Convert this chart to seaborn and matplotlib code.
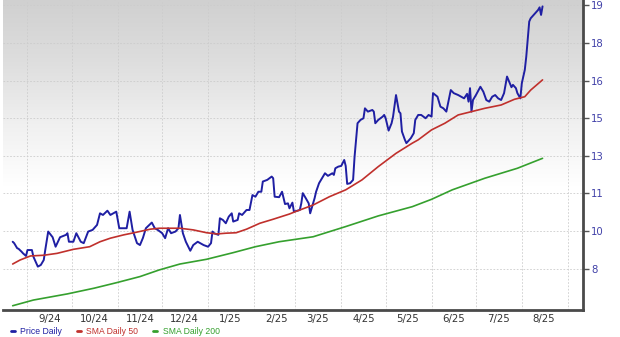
import numpy as np
import pandas as pd
import matplotlib
matplotlib.use("Agg")
import matplotlib.pyplot as plt
import matplotlib.dates as mdates
import seaborn as sns
from matplotlib.lines import Line2D
from matplotlib.colors import LinearSegmentedColormap

# ---------------- data ----------------
price_dates = [
    "2024-08-22", "2024-08-23", "2024-08-25", "2024-08-26", "2024-08-28", "2024-08-29", "2024-08-31",
    "2024-09-01", "2024-09-04", "2024-09-05", "2024-09-06", "2024-09-08", "2024-09-10", "2024-09-12",
    "2024-09-13", "2024-09-15", "2024-09-18", "2024-09-20", "2024-09-23", "2024-09-27", "2024-09-28",
    "2024-09-29", "2024-10-02", "2024-10-04", "2024-10-07", "2024-10-09", "2024-10-12", "2024-10-15",
    "2024-10-18", "2024-10-20", "2024-10-22", "2024-10-25", "2024-10-27", "2024-10-31", "2024-11-02",
    "2024-11-07", "2024-11-09", "2024-11-11", "2024-11-14", "2024-11-16", "2024-11-18", "2024-11-20",
    "2024-11-24", "2024-11-26", "2024-11-28", "2024-12-01", "2024-12-03", "2024-12-05", "2024-12-07",
    "2024-12-10", "2024-12-12", "2024-12-13", "2024-12-15", "2024-12-17", "2024-12-20", "2024-12-22",
    "2024-12-25", "2024-12-29", "2025-01-01", "2025-01-03", "2025-01-04", "2025-01-05", "2025-01-08",
    "2025-01-09", "2025-01-11", "2025-01-13", "2025-01-15", "2025-01-17", "2025-01-18", "2025-01-21",
    "2025-01-22", "2025-01-24", "2025-01-27", "2025-01-29", "2025-01-31", "2025-02-02", "2025-02-04",
    "2025-02-06", "2025-02-07", "2025-02-10", "2025-02-13", "2025-02-14", "2025-02-15", "2025-02-18",
    "2025-02-20", "2025-02-22", "2025-02-24", "2025-02-25", "2025-02-27", "2025-02-28", "2025-03-04",
    "2025-03-05", "2025-03-06", "2025-03-08", "2025-03-10", "2025-03-11", "2025-03-14", "2025-03-15",
    "2025-03-17", "2025-03-19", "2025-03-21", "2025-03-23", "2025-03-26", "2025-03-27", "2025-03-28",
    "2025-03-30", "2025-04-01", "2025-04-03", "2025-04-04", "2025-04-05", "2025-04-07", "2025-04-09",
    "2025-04-10", "2025-04-12", "2025-04-14", "2025-04-16", "2025-04-17", "2025-04-19", "2025-04-22",
    "2025-04-23", "2025-04-24", "2025-04-26", "2025-04-29", "2025-04-30", "2025-05-01", "2025-05-03",
    "2025-05-05", "2025-05-06", "2025-05-08", "2025-05-09", "2025-05-10", "2025-05-11", "2025-05-12",
    "2025-05-14", "2025-05-15", "2025-05-18", "2025-05-20", "2025-05-21", "2025-05-23", "2025-05-25",
    "2025-05-28", "2025-05-30", "2025-06-01", "2025-06-02", "2025-06-05", "2025-06-07", "2025-06-09",
    "2025-06-11", "2025-06-14", "2025-06-16", "2025-06-19", "2025-06-23", "2025-06-25", "2025-06-26",
    "2025-06-27", "2025-06-28", "2025-06-29", "2025-07-01", "2025-07-04", "2025-07-06", "2025-07-08",
    "2025-07-10", "2025-07-12", "2025-07-14", "2025-07-16", "2025-07-18", "2025-07-20", "2025-07-22",
    "2025-07-25", "2025-07-26", "2025-07-28", "2025-07-29", "2025-07-31", "2025-08-01", "2025-08-03",
    "2025-08-04", "2025-08-06", "2025-08-07", "2025-08-10", "2025-08-12", "2025-08-13", "2025-08-14",
    "2025-08-15",
]
price_values = [
    9.43, 9.37, 9.16, 9.13, 9.01, 8.94, 8.83,
    9.08, 9.08, 8.80, 8.66, 8.38, 8.45, 8.66,
    9.08, 9.86, 9.62, 9.22, 9.62, 9.72, 9.79,
    9.43, 9.43, 9.79, 9.43, 9.37, 9.86, 9.93,
    10.14, 10.63, 10.56, 10.74, 10.56, 10.70, 10.00,
    10.00, 10.70, 9.93, 9.37, 9.29, 9.59, 10.00,
    10.24, 10.00, 9.93, 9.79, 9.58, 10.00, 9.79,
    9.86, 10.00, 10.56, 9.79, 9.43, 9.05, 9.29,
    9.43, 9.29, 9.22, 9.37, 9.86, 9.79, 9.72,
    10.42, 10.35, 10.21, 10.49, 10.63, 10.28, 10.35,
    10.63, 10.56, 10.77, 10.77, 11.40, 11.33, 11.54,
    11.54, 11.97, 12.04, 12.18, 12.11, 11.33, 11.31,
    11.54, 11.02, 11.05, 10.84, 11.08, 10.70, 10.77,
    11.05, 11.48, 11.27, 11.05, 10.63, 11.27, 11.54,
    11.90, 12.11, 12.32, 12.21, 12.32, 12.25, 12.53,
    12.60, 12.63, 12.88, 12.63, 11.87, 11.90, 12.04,
    13.02, 14.43, 14.57, 14.64, 15.06, 14.92, 14.99,
    14.92, 14.43, 14.57, 14.71, 14.78, 14.64, 14.12,
    14.43, 14.71, 15.62, 15.27, 14.92, 14.85, 14.08,
    13.73, 13.59, 13.80, 14.01, 14.57, 14.78, 14.78,
    14.64, 14.78, 14.71, 15.70, 15.55, 15.13, 15.06,
    14.92, 15.83, 15.70, 15.62, 15.48, 15.67, 15.34,
    15.91, 14.92, 15.41, 15.62, 15.97, 15.76, 15.41,
    15.34, 15.55, 15.62, 15.48, 15.41, 15.70, 16.40,
    15.95, 16.05, 15.91, 15.70, 15.48, 16.12, 16.68,
    17.24, 18.72, 18.86, 19.07, 19.21, 19.32, 19.00,
    19.36,
]

sma50_dates = [
    "2024-08-22", "2024-08-27", "2024-09-03", "2024-09-12", "2024-09-21", "2024-10-02", "2024-10-13",
    "2024-10-20", "2024-10-27", "2024-11-05", "2024-11-12", "2024-11-23", "2024-11-29", "2024-12-13",
    "2024-12-22", "2024-12-31", "2025-01-07", "2025-01-13", "2025-01-20", "2025-01-27", "2025-02-05",
    "2025-02-14", "2025-02-25", "2025-03-01", "2025-03-13", "2025-03-24", "2025-04-04", "2025-04-15",
    "2025-04-26", "2025-05-08", "2025-05-19", "2025-05-23", "2025-06-01", "2025-06-10", "2025-06-19",
    "2025-06-28", "2025-07-07", "2025-07-18", "2025-07-27", "2025-08-03", "2025-08-07", "2025-08-15",
]
sma50_values = [
    8.49, 8.66, 8.83, 8.86, 8.94, 9.11, 9.22,
    9.43, 9.58, 9.72, 9.81, 9.96, 10.00, 10.00,
    9.93, 9.81, 9.76, 9.79, 9.81, 9.96, 10.21,
    10.38, 10.60, 10.70, 10.98, 11.33, 11.62, 12.04,
    12.60, 13.16, 13.59, 13.73, 14.15, 14.43, 14.78,
    14.92, 15.06, 15.20, 15.44, 15.55, 15.83, 16.26,
]

sma200_dates = [
    "2024-08-22", "2024-09-05", "2024-09-28", "2024-10-16", "2024-10-31", "2024-11-16", "2024-11-29",
    "2024-12-13", "2024-12-31", "2025-01-18", "2025-02-02", "2025-02-18", "2025-03-13", "2025-04-04",
    "2025-04-26", "2025-05-19", "2025-06-01", "2025-06-15", "2025-07-07", "2025-07-29", "2025-08-15",
]
sma200_values = [
    6.73, 6.97, 7.23, 7.47, 7.70, 7.96, 8.24,
    8.49, 8.69, 8.97, 9.22, 9.43, 9.64, 10.07,
    10.52, 10.91, 11.22, 11.62, 12.11, 12.53, 12.95,
]

month_labels = ["9/24", "10/24", "11/24", "12/24", "1/25", "2/25",
                "3/25", "4/25", "5/25", "6/25", "7/25", "8/25"]
y_ticks = [8.3, 9.886, 11.471, 13.057, 14.643, 16.229, 17.814, 19.4]
series_names = ["Price Daily", "SMA Daily 50", "SMA Daily 200"]
series_colors = ["#1f1fa3", "#c0302c", "#35a02e"]

# ---------------- build ----------------
frames = []
for name, d, v in zip(series_names,
                      [price_dates, sma50_dates, sma200_dates],
                      [price_values, sma50_values, sma200_values]):
    frames.append(pd.DataFrame({"date": pd.to_datetime(d), "value": v, "series": name}))
df = pd.concat(frames, ignore_index=True)

sns.set_style("white")
plt.rcParams["font.family"] = ["DejaVu Sans"]

W, H = 620, 337
fig = plt.figure(figsize=(W / 100, H / 100), dpi=100)
rect = [3 / W, 27 / H, 580 / W, 310 / H]

# gradient background
bg = fig.add_axes(rect, zorder=0)
grad = np.linspace(0, 1, 256).reshape(-1, 1)
cmap = LinearSegmentedColormap.from_list(
    "g", [(0.0, "#d0d0d0"), (0.2, "#dedede"), (0.4, "#f0f0f0"), (0.6, "#ffffff"), (1.0, "#ffffff")])
bg.imshow(grad, aspect="auto", cmap=cmap, extent=[0, 1, 1, 0], interpolation="bilinear")
bg.set_xlim(0, 1)
bg.set_ylim(1, 0)
bg.axis("off")

ax = fig.add_axes(rect, zorder=1)
ax.set_facecolor("none")

widths = {"Price Daily": 1.4, "SMA Daily 50": 1.2, "SMA Daily 200": 1.2}
for name, col in zip(series_names, series_colors):
    sub = df[df["series"] == name]
    sns.lineplot(data=sub, x="date", y="value", ax=ax, color=col,
                 linewidth=widths[name], estimator=None, sort=False, legend=False)

ax.set_xlim(pd.Timestamp("2024-08-15 11:00"), pd.Timestamp("2025-09-11 08:00"))
ax.set_ylim(6.55, 19.63)
ax.set_xlabel("")
ax.set_ylabel("")

# x axis: month boundaries as gridlines, labels centred in each month
ax.xaxis.set_major_locator(mdates.MonthLocator())
ax.xaxis.set_major_formatter(matplotlib.ticker.NullFormatter())
mid = pd.date_range("2024-09-01", periods=len(month_labels), freq="MS") + pd.Timedelta(days=15)
ax.set_xticks(mid, labels=month_labels, minor=True)
ax.tick_params(axis="x", which="both", length=0, labelsize=7.3, colors="#333333", pad=3)

# y axis on the right
ax.yaxis.tick_right()
ax.set_yticks(y_ticks, labels=[f"{v:.0f}" for v in y_ticks])
ax.tick_params(axis="y", which="major", direction="out", length=4, width=1,
               color="#555555", labelcolor="#4040a8", labelsize=7.3, pad=2)

ax.grid(which="major", axis="x", color="#cccccc", linestyle=(0, (2, 2)), linewidth=0.6)
ax.grid(which="major", axis="y", color="#cccccc", linestyle=(0, (2, 2)), linewidth=0.6)
ax.set_axisbelow(True)

for s in ["left", "top"]:
    ax.spines[s].set_visible(False)
for s in ["right", "bottom"]:
    ax.spines[s].set_color("#4a4a4a")
    ax.spines[s].set_linewidth(2)

# legend
handles = [Line2D([0], [0], color=c, linewidth=2) for c in series_colors]
leg = fig.legend(handles, series_names, loc="lower left", bbox_to_anchor=(11 / W, 1 / H),
                 ncol=3, frameon=False, prop={"family": "Liberation Sans", "size": 6.2},
                 handlelength=0.5, handletextpad=0.6, columnspacing=1.7,
                 borderpad=0, borderaxespad=0)
for t, c in zip(leg.get_texts(), series_colors):
    t.set_color(c)

fig.savefig("out.png", dpi=100)
